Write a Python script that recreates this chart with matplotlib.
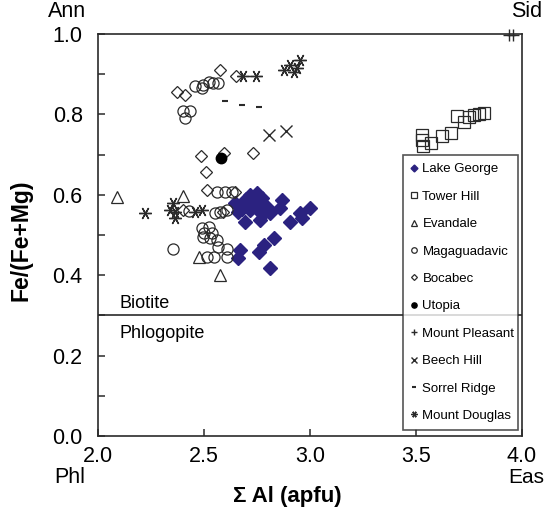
import matplotlib
matplotlib.use("Agg")
import matplotlib.pyplot as plt
from matplotlib.ticker import MultipleLocator

plt.rcParams["font.family"] = ["Liberation Sans", "DejaVu Sans"]

# Fe/(Fe+Mg) vs total Al, one pair of lists per locality
lake_george_x = [2.648, 2.671, 2.695, 2.719, 2.750, 2.734, 2.773, 2.797, 2.813, 2.766,
                 2.695, 2.719, 2.782, 2.663, 2.868, 2.861, 2.908, 2.955, 2.963, 3.002,
                 2.829, 2.782, 2.758, 2.671, 2.663, 2.813, 2.70, 2.74, 2.76, 2.72, 2.68, 2.75]
lake_george_y = [0.579, 0.570, 0.583, 0.600, 0.604, 0.579, 0.591, 0.570, 0.554, 0.537,
                 0.533, 0.562, 0.554, 0.558, 0.587, 0.566, 0.533, 0.554, 0.542, 0.566,
                 0.492, 0.475, 0.458, 0.463, 0.442, 0.417, 0.590, 0.595, 0.585, 0.575, 0.565, 0.565]

tower_hill_x = [3.530, 3.530, 3.535, 3.570, 3.625, 3.667, 3.696, 3.727, 3.751, 3.775, 3.798, 3.822]
tower_hill_y = [0.749, 0.736, 0.720, 0.728, 0.745, 0.753, 0.796, 0.782, 0.794, 0.799, 0.801, 0.804]

evandale_x = [2.09, 2.403, 2.478, 2.575]
evandale_y = [0.595, 0.597, 0.444, 0.400]

magaguadavic_x = [2.459, 2.490, 2.498, 2.522, 2.545, 2.569, 2.400, 2.435, 2.411,
                  2.561, 2.600, 2.632, 2.430, 2.553, 2.577, 2.608,
                  2.490, 2.522, 2.498, 2.530, 2.564, 2.569, 2.608, 2.500, 2.540,
                  2.516, 2.548, 2.609, 2.352]
magaguadavic_y = [0.871, 0.865, 0.873, 0.881, 0.877, 0.877, 0.807, 0.807, 0.790,
                  0.608, 0.608, 0.608, 0.560, 0.554, 0.558, 0.562,
                  0.517, 0.521, 0.496, 0.492, 0.488, 0.471, 0.465, 0.505, 0.505,
                  0.446, 0.446, 0.446, 0.465]

bocabec_x = [2.577, 2.650, 2.375, 2.411, 2.485, 2.596, 2.734, 2.511, 2.514, 2.648, 2.400, 2.590]
bocabec_y = [0.910, 0.896, 0.856, 0.848, 0.697, 0.705, 0.705, 0.656, 0.612, 0.608, 0.562, 0.556]

utopia_x = [2.580]
utopia_y = [0.691]

mount_pleasant_x = [3.94, 3.96]
mount_pleasant_y = [0.997, 0.997]

beech_hill_x = [2.809, 2.889]
beech_hill_y = [0.749, 0.759]

sorrel_ridge_x = [2.600, 2.679, 2.761]
sorrel_ridge_y = [0.832, 0.823, 0.817]

mount_douglas_x = [2.687, 2.747, 2.876, 2.908, 2.939, 2.955, 2.925,
                   2.222, 2.356, 2.364, 2.364, 2.340, 2.459, 2.490]
mount_douglas_y = [0.894, 0.894, 0.910, 0.923, 0.915, 0.935, 0.905,
                   0.554, 0.579, 0.558, 0.541, 0.562, 0.558, 0.562]

NAVY = "#2b2280"
GREY = "#2a2a2a"

fig = plt.figure(figsize=(5.44, 5.13), dpi=100)
ax = fig.add_axes([0.180, 0.150, 0.779, 0.784])

open_kw = dict(linestyle="none", markerfacecolor="none", markeredgecolor=GREY,
               markeredgewidth=0.9)

ax.plot(lake_george_x, lake_george_y, "D", color=NAVY, markersize=7,
        linestyle="none", label="Lake George")
ax.plot(tower_hill_x, tower_hill_y, "s", markersize=8, label="Tower Hill", **open_kw)
ax.plot(evandale_x, evandale_y, "^", markersize=8, label="Evandale", **open_kw)
ax.plot(magaguadavic_x, magaguadavic_y, "o", markersize=8, label="Magaguadavic", **open_kw)
ax.plot(bocabec_x, bocabec_y, "D", markersize=6, label="Bocabec", **open_kw)
ax.plot(utopia_x, utopia_y, "o", color="black", markersize=7.5, linestyle="none",
        label="Utopia")
ax.plot(mount_pleasant_x, mount_pleasant_y, "+", color=GREY, markersize=8,
        markeredgewidth=1.0, linestyle="none", label="Mount Pleasant", clip_on=False)
ax.plot(beech_hill_x, beech_hill_y, "x", color=GREY, markersize=8,
        markeredgewidth=1.0, linestyle="none", label="Beech Hill")
ax.plot(sorrel_ridge_x, sorrel_ridge_y, "_", color=GREY, markersize=5,
        markeredgewidth=1.5, linestyle="none", label="Sorrel Ridge")
ax.plot(mount_douglas_x, mount_douglas_y, marker=(6, 2, 90), color=GREY, markersize=9,
        markeredgewidth=1.0, linestyle="none", label="Mount Douglas")

# biotite / phlogopite boundary
ax.axhline(0.3, color=GREY, linewidth=1.2)
ax.text(2.10, 0.308, "Biotite", fontsize=13, va="bottom")
ax.text(2.10, 0.256, "Phlogopite", fontsize=13, va="center")

ax.set_xlim(2.0, 4.0)
ax.set_ylim(0.0, 1.0)
ax.xaxis.set_major_locator(MultipleLocator(0.5))
ax.yaxis.set_major_locator(MultipleLocator(0.2))
ax.yaxis.set_minor_locator(MultipleLocator(0.1))
ax.tick_params(axis="both", which="both", direction="in", length=5, width=1.1,
               labelsize=15.5, colors=GREY, labelcolor="black")
ax.tick_params(axis="y", pad=11)
ax.tick_params(axis="x", pad=7)
ax.xaxis.set_major_formatter(lambda v, p: f"{v:.1f}")
ax.yaxis.set_major_formatter(lambda v, p: f"{v:.1f}")

for side in ax.spines.values():
    side.set_linewidth(1.2)
    side.set_color(GREY)

ax.set_xlabel("\u03a3 Al (apfu)", fontsize=16, fontweight="bold")
ax.set_ylabel("Fe/(Fe+Mg)", fontsize=16.5, fontweight="bold")
ax.xaxis.set_label_coords(0.446, -0.125)
ax.yaxis.set_label_coords(-0.155, 0.488)

# end-member labels at the corners
ax.text(1.855, 1.055, "Ann", fontsize=15.5, ha="center", va="center", clip_on=False)
ax.text(4.025, 1.055, "Sid", fontsize=15.5, ha="center", va="center", clip_on=False)
ax.text(1.868, -0.104, "Phl", fontsize=15.5, ha="center", va="center", clip_on=False)
ax.text(4.02, -0.104, "Eas", fontsize=15, ha="center", va="center", clip_on=False)

leg = ax.legend(loc="lower left", bbox_to_anchor=(0.719, 0.015, 0.272, 0.684),
                mode="expand", fontsize=9.5, markerscale=0.5, handlelength=0.5,
                handletextpad=0.4, borderpad=0.6, labelspacing=1.15,
                borderaxespad=0, frameon=True, fancybox=False)
leg.get_frame().set_edgecolor(GREY)
leg.get_frame().set_linewidth(1.2)

fig.savefig("out.png", dpi=100)
